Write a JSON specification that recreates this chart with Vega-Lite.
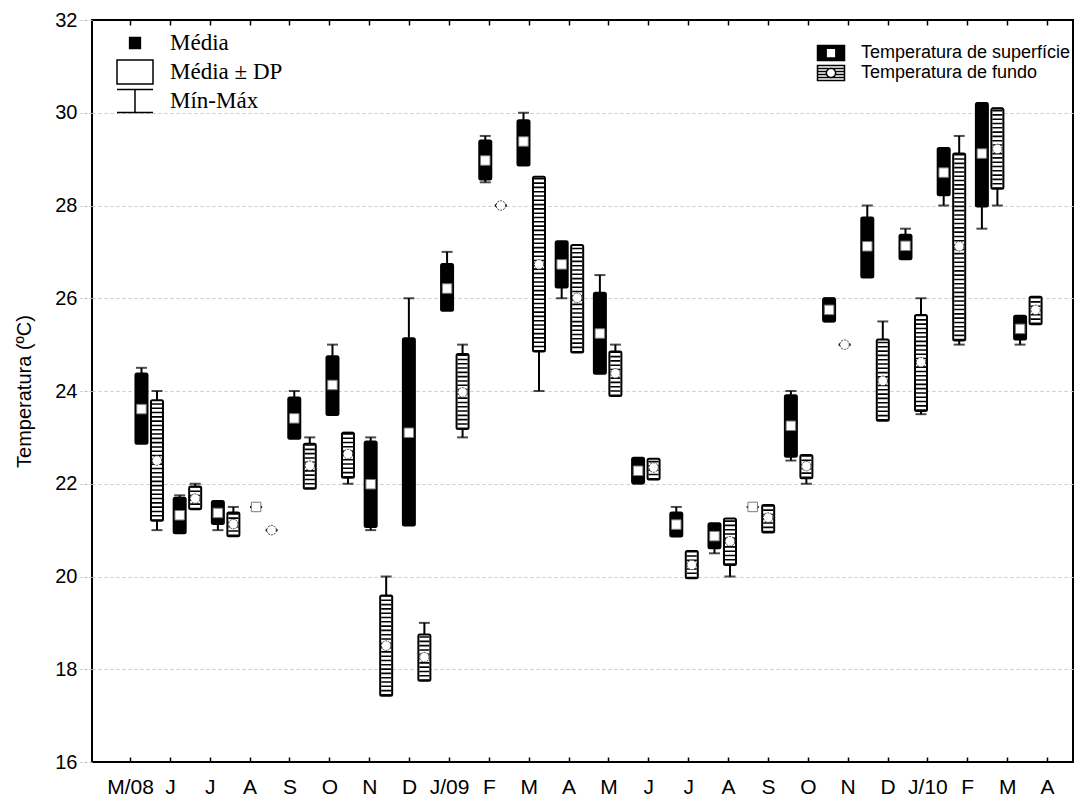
{
  "$schema": "https://vega.github.io/schema/vega-lite/v6.json",
  "width": 981,
  "height": 742,
  "autosize": {"type": "none"},
  "padding": {"left": 92, "top": 20, "right": 14, "bottom": 41},
  "background": "white",
  "config": {"view": {"stroke": "black", "strokeWidth": 2}, "font": "Liberation Sans"},
  "datasets": {
    "temps": [
      {"i": 0, "series": "Temperatura de superfície", "mean": 23.61, "lo": 22.86, "hi": 24.38, "min": 23.0, "max": 24.5},
      {"i": 1, "series": "Temperatura de superfície", "mean": 21.32, "lo": 20.93, "hi": 21.70, "min": 21.0, "max": 21.75},
      {"i": 2, "series": "Temperatura de superfície", "mean": 21.37, "lo": 21.13, "hi": 21.63, "min": 21.0, "max": 21.6},
      {"i": 3, "series": "Temperatura de superfície", "mean": 21.5, "lo": 21.5, "hi": 21.5, "min": 21.5, "max": 21.5},
      {"i": 4, "series": "Temperatura de superfície", "mean": 23.41, "lo": 22.97, "hi": 23.86, "min": 23.0, "max": 24.0},
      {"i": 5, "series": "Temperatura de superfície", "mean": 24.13, "lo": 23.48, "hi": 24.75, "min": 23.5, "max": 25.0},
      {"i": 6, "series": "Temperatura de superfície", "mean": 21.99, "lo": 21.07, "hi": 22.91, "min": 21.0, "max": 23.0},
      {"i": 7, "series": "Temperatura de superfície", "mean": 23.10, "lo": 21.10, "hi": 25.14, "min": 21.15, "max": 26.0},
      {"i": 8, "series": "Temperatura de superfície", "mean": 26.21, "lo": 25.73, "hi": 26.74, "min": 25.8, "max": 27.0},
      {"i": 9, "series": "Temperatura de superfície", "mean": 28.97, "lo": 28.56, "hi": 29.40, "min": 28.5, "max": 29.5},
      {"i": 10, "series": "Temperatura de superfície", "mean": 29.38, "lo": 28.86, "hi": 29.84, "min": 28.9, "max": 30.0},
      {"i": 11, "series": "Temperatura de superfície", "mean": 26.73, "lo": 26.23, "hi": 27.23, "min": 26.0, "max": 27.2},
      {"i": 12, "series": "Temperatura de superfície", "mean": 25.24, "lo": 24.37, "hi": 26.12, "min": 24.4, "max": 26.5},
      {"i": 13, "series": "Temperatura de superfície", "mean": 22.28, "lo": 22.01, "hi": 22.56, "min": 22.0, "max": 22.5},
      {"i": 14, "series": "Temperatura de superfície", "mean": 21.12, "lo": 20.86, "hi": 21.38, "min": 20.9, "max": 21.5},
      {"i": 15, "series": "Temperatura de superfície", "mean": 20.87, "lo": 20.61, "hi": 21.15, "min": 20.5, "max": 21.1},
      {"i": 16, "series": "Temperatura de superfície", "mean": 21.5, "lo": 21.5, "hi": 21.5, "min": 21.5, "max": 21.5},
      {"i": 17, "series": "Temperatura de superfície", "mean": 23.25, "lo": 22.58, "hi": 23.91, "min": 22.5, "max": 24.0},
      {"i": 18, "series": "Temperatura de superfície", "mean": 25.75, "lo": 25.50, "hi": 26.00, "min": 25.5, "max": 26.0},
      {"i": 19, "series": "Temperatura de superfície", "mean": 27.12, "lo": 26.45, "hi": 27.74, "min": 26.5, "max": 28.0},
      {"i": 20, "series": "Temperatura de superfície", "mean": 27.13, "lo": 26.84, "hi": 27.37, "min": 26.9, "max": 27.5},
      {"i": 21, "series": "Temperatura de superfície", "mean": 28.71, "lo": 28.22, "hi": 29.24, "min": 28.0, "max": 29.2},
      {"i": 22, "series": "Temperatura de superfície", "mean": 29.12, "lo": 27.98, "hi": 30.21, "min": 27.5, "max": 30.2},
      {"i": 23, "series": "Temperatura de superfície", "mean": 25.34, "lo": 25.11, "hi": 25.62, "min": 25.0, "max": 25.6},
      {"i": 0, "series": "Temperatura de fundo", "mean": 22.50, "lo": 21.20, "hi": 23.80, "min": 21.0, "max": 24.0},
      {"i": 1, "series": "Temperatura de fundo", "mean": 21.68, "lo": 21.45, "hi": 21.94, "min": 21.5, "max": 22.0},
      {"i": 2, "series": "Temperatura de fundo", "mean": 21.13, "lo": 20.87, "hi": 21.38, "min": 20.9, "max": 21.5},
      {"i": 3, "series": "Temperatura de fundo", "mean": 21.0, "lo": 21.0, "hi": 21.0, "min": 21.0, "max": 21.0},
      {"i": 4, "series": "Temperatura de fundo", "mean": 22.39, "lo": 21.89, "hi": 22.86, "min": 21.95, "max": 23.0},
      {"i": 5, "series": "Temperatura de fundo", "mean": 22.64, "lo": 22.13, "hi": 23.10, "min": 22.0, "max": 23.1},
      {"i": 6, "series": "Temperatura de fundo", "mean": 18.51, "lo": 17.43, "hi": 19.59, "min": 17.5, "max": 20.0},
      {"i": 7, "series": "Temperatura de fundo", "mean": 18.26, "lo": 17.75, "hi": 18.75, "min": 17.8, "max": 19.0},
      {"i": 8, "series": "Temperatura de fundo", "mean": 23.97, "lo": 23.18, "hi": 24.80, "min": 23.0, "max": 25.0},
      {"i": 9, "series": "Temperatura de fundo", "mean": 28.0, "lo": 28.0, "hi": 28.0, "min": 28.0, "max": 28.0},
      {"i": 10, "series": "Temperatura de fundo", "mean": 26.73, "lo": 24.85, "hi": 28.62, "min": 24.0, "max": 28.6},
      {"i": 11, "series": "Temperatura de fundo", "mean": 26.01, "lo": 24.83, "hi": 27.15, "min": 24.9, "max": 27.1},
      {"i": 12, "series": "Temperatura de fundo", "mean": 24.38, "lo": 23.89, "hi": 24.85, "min": 23.9, "max": 25.0},
      {"i": 13, "series": "Temperatura de fundo", "mean": 22.35, "lo": 22.09, "hi": 22.54, "min": 22.1, "max": 22.5},
      {"i": 14, "series": "Temperatura de fundo", "mean": 20.25, "lo": 19.96, "hi": 20.55, "min": 20.0, "max": 20.5},
      {"i": 15, "series": "Temperatura de fundo", "mean": 20.76, "lo": 20.25, "hi": 21.25, "min": 20.0, "max": 21.2},
      {"i": 16, "series": "Temperatura de fundo", "mean": 21.27, "lo": 20.95, "hi": 21.54, "min": 21.0, "max": 21.5},
      {"i": 17, "series": "Temperatura de fundo", "mean": 22.38, "lo": 22.12, "hi": 22.62, "min": 22.0, "max": 22.6},
      {"i": 18, "series": "Temperatura de fundo", "mean": 25.0, "lo": 25.0, "hi": 25.0, "min": 25.0, "max": 25.0},
      {"i": 19, "series": "Temperatura de fundo", "mean": 24.22, "lo": 23.36, "hi": 25.11, "min": 23.4, "max": 25.5},
      {"i": 20, "series": "Temperatura de fundo", "mean": 24.62, "lo": 23.57, "hi": 25.64, "min": 23.5, "max": 26.0},
      {"i": 21, "series": "Temperatura de fundo", "mean": 27.12, "lo": 25.09, "hi": 29.12, "min": 25.0, "max": 29.5},
      {"i": 22, "series": "Temperatura de fundo", "mean": 29.22, "lo": 28.36, "hi": 30.09, "min": 28.0, "max": 30.1},
      {"i": 23, "series": "Temperatura de fundo", "mean": 25.75, "lo": 25.44, "hi": 26.03, "min": 25.5, "max": 26.0}
    ],
    "months": [
      {"i": 0}, {"i": 1}, {"i": 2}, {"i": 3}, {"i": 4}, {"i": 5}, {"i": 6}, {"i": 7},
      {"i": 8}, {"i": 9}, {"i": 10}, {"i": 11}, {"i": 12}, {"i": 13}, {"i": 14}, {"i": 15},
      {"i": 16}, {"i": 17}, {"i": 18}, {"i": 19}, {"i": 20}, {"i": 21}, {"i": 22}, {"i": 23}
    ],
    "stats": [{"stat": "Média"}, {"stat": "Média ± DP"}, {"stat": "Mín-Máx"}]
  },
  "layer": [
    {
      "data": {"name": "temps"},
      "encoding": {
        "x": {
          "field": "i", "type": "ordinal",
          "scale": {"type": "band", "domain": [0,1,2,3,4,5,6,7,8,9,10,11,12,13,14,15,16,17,18,19,20,21,22,23], "paddingInner": 0, "paddingOuter": 0.84, "align": 0.594},
          "axis": null
        },
        "xOffset": {
          "field": "series", "type": "nominal",
          "scale": {"domain": ["Temperatura de superfície", "Temperatura de fundo"], "paddingInner": 0, "paddingOuter": 0.232}
        }
      },
      "layer": [
        {
          "mark": {"type": "rule", "color": "black", "strokeWidth": 2},
          "encoding": {
            "y": {
              "field": "min", "type": "quantitative",
              "scale": {"domain": [16, 32], "nice": false, "zero": false},
              "axis": {
                "values": [16, 18, 20, 22, 24, 26, 28, 30, 32],
                "title": "Temperatura (ºC)",
                "titleFont": "Liberation Sans", "titleFontSize": 20, "titleFontWeight": "normal", "titleColor": "black", "titlePadding": 20,
                "labelFont": "Liberation Sans", "labelFontSize": 20, "labelColor": "black", "labelPadding": 3,
                "tickSize": 12, "tickColor": "#bdbdbd", "tickDash": [3, 2], "tickWidth": 1,
                "domain": false,
                "grid": true,
                "gridColor": {"condition": {"test": "datum.value === 16 || datum.value === 32", "value": "transparent"}, "value": "#c8c8c8"},
                "gridDash": [3, 3], "gridWidth": 1
              }
            },
            "y2": {"field": "max"}
          }
        },
        {
          "mark": {"type": "tick", "color": "black", "size": 11, "thickness": 2, "orient": "horizontal"},
          "encoding": {"y": {"field": "min", "type": "quantitative"}}
        },
        {
          "mark": {"type": "tick", "color": "black", "size": 11, "thickness": 2, "orient": "horizontal"},
          "encoding": {"y": {"field": "max", "type": "quantitative"}}
        },
        {
          "mark": {"type": "bar", "width": 12, "stroke": "black", "strokeWidth": 2, "cornerRadius": 1.5},
          "encoding": {
            "y": {"field": "lo", "type": "quantitative"},
            "y2": {"field": "hi"},
            "fill": {
              "field": "series", "type": "nominal",
              "scale": {"domain": ["Temperatura de superfície", "Temperatura de fundo"], "range": ["black", "white"]},
              "legend": {
                "orient": "none", "legendX": 730, "legendY": 24, "title": null, "padding": 0,
                "symbolSize": 225, "rowPadding": -6, "labelOffset": 21, "labelLimit": 400,
                "labelFont": "Liberation Sans", "labelFontSize": 18, "labelColor": "black",
                "symbolOpacity": 1, "symbolStrokeColor": "black", "symbolStrokeWidth": 1.5
              }
            }
          }
        },
        {
          "mark": {"type": "point", "opacity": 0, "filled": true, "color": "black"},
          "encoding": {
            "y": {"field": "mean", "type": "quantitative"},
            "shape": {
              "field": "series", "type": "nominal",
              "scale": {
                "domain": ["Temperatura de superfície", "Temperatura de fundo"],
                "range": [
                  "M-1.8,-1H1.8V1H-1.8Z M-0.65,-0.65V0.65H0.65V-0.65Z",
                  "M-1.8,-1H1.8V1H-1.8Z M-1.8,-0.6H1.8 M-1.8,0.6H1.8 M-1.8,-0.2H-0.62 M0.62,-0.2H1.8 M-1.8,0.2H-0.62 M0.62,0.2H1.8 M0.62,0A0.62,0.62 0 1,1 -0.62,0A0.62,0.62 0 1,1 0.62,0Z"
                ]
              },
              "legend": {
                "orient": "none", "legendX": 730, "legendY": 24, "title": null, "padding": 0,
                "symbolSize": 225, "rowPadding": -6, "labelOffset": 21, "labelLimit": 400,
                "labelFont": "Liberation Sans", "labelFontSize": 18, "labelColor": "black",
                "symbolOpacity": 1, "symbolStrokeColor": "black", "symbolStrokeWidth": 1.5
              }
            },
            "stroke": {
              "field": "series", "type": "nominal",
              "scale": {"domain": ["Temperatura de superfície", "Temperatura de fundo"], "range": ["black", "black"]},
              "legend": {
                "orient": "none", "legendX": 730, "legendY": 24, "title": null, "padding": 0,
                "symbolSize": 225, "rowPadding": -6, "labelOffset": 21, "labelLimit": 400,
                "labelFont": "Liberation Sans", "labelFontSize": 18, "labelColor": "black",
                "symbolOpacity": 1, "symbolStrokeColor": "black", "symbolStrokeWidth": 1.5
              }
            }
          }
        },
        {
          "transform": [{"filter": "datum.series === 'Temperatura de fundo'"}],
          "mark": {"type": "rule", "color": "black", "strokeWidth": 10, "strokeDash": [1.6, 2.7], "strokeCap": "butt"},
          "encoding": {
            "y": {"field": "lo", "type": "quantitative"},
            "y2": {"field": "hi"}
          }
        },
        {
          "transform": [{"filter": "datum.series === 'Temperatura de superfície'"}],
          "mark": {"type": "point", "shape": "square", "filled": true, "fill": "white", "stroke": "#7a7a7a", "strokeWidth": 1, "size": 90, "opacity": 1},
          "encoding": {"y": {"field": "mean", "type": "quantitative"}}
        },
        {
          "transform": [{"filter": "datum.series === 'Temperatura de fundo'"}],
          "mark": {"type": "point", "shape": "circle", "filled": true, "fill": "white", "stroke": "#3a3a3a", "strokeWidth": 1, "strokeDash": [2, 1], "size": 90, "opacity": 1},
          "encoding": {"y": {"field": "mean", "type": "quantitative"}}
        }
      ]
    },
    {
      "data": {"name": "months"},
      "mark": {"type": "point", "opacity": 0},
      "encoding": {
        "x": {
          "field": "i", "type": "ordinal",
          "scale": {"type": "point", "domain": [0,1,2,3,4,5,6,7,8,9,10,11,12,13,14,15,16,17,18,19,20,21,22,23], "padding": 0.8026, "align": 0.594},
          "axis": {
            "orient": "bottom", "title": null, "domain": false,
            "labelExpr": "['M/08','J','J','A','S','O','N','D','J/09','F','M','A','M','J','J','A','S','O','N','D','J/10','F','M','A'][datum.value]",
            "labelAngle": 0, "labelFont": "Liberation Sans", "labelFontSize": 21, "labelColor": "black",
            "tickSize": -5, "tickColor": "black", "tickWidth": 1.5, "labelPadding": 19, "labelOverlap": false
          }
        }
      }
    },
    {
      "data": {"name": "months"},
      "mark": {"type": "point", "opacity": 0},
      "encoding": {
        "x": {
          "field": "i", "type": "ordinal",
          "scale": {"type": "point", "domain": [0,1,2,3,4,5,6,7,8,9,10,11,12,13,14,15,16,17,18,19,20,21,22,23], "padding": 0.8026, "align": 0.594},
          "axis": {"orient": "top", "title": null, "domain": false, "labels": false, "tickSize": -5, "tickColor": "black", "tickWidth": 1.5}
        }
      }
    },
    {
      "data": {"name": "stats"},
      "mark": {"type": "point", "opacity": 0, "color": "black", "strokeWidth": 1.5},
      "encoding": {
        "shape": {
          "field": "stat", "type": "nominal",
          "scale": {
            "domain": ["Média", "Média ± DP", "Mín-Máx"],
            "range": ["M-1.5,-1M1.5,1M-0.45,-0.45H0.45V0.45H-0.45Z", "M-1.5,-1H1.5V1H-1.5Z", "M-1.5,-1M1.5,1M-1.5,-0.96H1.5M0,-0.96V0.96M-1.5,0.96H1.5"]
          },
          "legend": {
            "orient": "none", "legendX": 30, "legendY": 10, "title": null, "padding": 0,
            "symbolSize": 576, "rowPadding": -1, "labelOffset": 22, "labelLimit": 300,
            "labelFont": "Liberation Serif", "labelFontSize": 23, "labelColor": "black",
            "symbolOpacity": 1, "symbolStrokeColor": "black", "symbolStrokeWidth": 1.5
          }
        },
        "fill": {
          "field": "stat", "type": "nominal",
          "scale": {"domain": ["Média", "Média ± DP", "Mín-Máx"], "range": ["black", "transparent", "transparent"]},
          "legend": {
            "orient": "none", "legendX": 30, "legendY": 10, "title": null, "padding": 0,
            "symbolSize": 576, "rowPadding": -1, "labelOffset": 22, "labelLimit": 300,
            "labelFont": "Liberation Serif", "labelFontSize": 23, "labelColor": "black",
            "symbolOpacity": 1, "symbolStrokeColor": "black", "symbolStrokeWidth": 1.5
          }
        },
        "stroke": {
          "field": "stat", "type": "nominal",
          "scale": {"domain": ["Média", "Média ± DP", "Mín-Máx"], "range": ["black", "black", "black"]},
          "legend": {
            "orient": "none", "legendX": 30, "legendY": 10, "title": null, "padding": 0,
            "symbolSize": 576, "rowPadding": -1, "labelOffset": 22, "labelLimit": 300,
            "labelFont": "Liberation Serif", "labelFontSize": 23, "labelColor": "black",
            "symbolOpacity": 1, "symbolStrokeColor": "black", "symbolStrokeWidth": 1.5
          }
        }
      }
    }
  ],
  "resolve": {"scale": {"x": "independent", "shape": "independent", "fill": "independent", "stroke": "independent"}}
}
